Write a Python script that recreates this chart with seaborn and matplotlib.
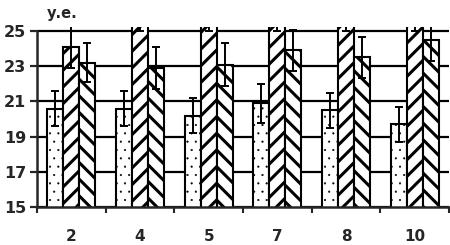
import numpy as np
import pandas as pd
import seaborn as sns
import matplotlib.pyplot as plt

groups = ["2", "4", "5", "7", "8", "10"]
series = ["dots", "right", "left"]
dots_vals = [20.6, 20.6, 20.2, 20.9, 20.5, 19.7]
dots_err = [1.0, 1.0, 1.0, 1.1, 1.0, 1.0]
right_vals = [24.1, 26.0, 26.0, 26.0, 26.0, 26.0]
right_err = [1.2, 1.0, 1.0, 1.0, 1.0, 1.0]
left_vals = [23.2, 22.9, 23.1, 23.9, 23.5, 24.5]
left_err = [1.1, 1.2, 1.2, 1.15, 1.15, 1.2]
yticks = [15, 17, 19, 21, 23, 25]

df = pd.DataFrame({
    "group": groups * 3,
    "series": [s for s in series for _ in groups],
    "value": dots_vals + right_vals + left_vals,
})
errs = [dots_err, right_err, left_err]

sns.set_style("white")
plt.rcParams["font.family"] = ["DejaVu Sans"]
plt.rcParams["font.weight"] = "bold"
plt.rcParams["hatch.color"] = "black"

fig = plt.figure(figsize=(4.5, 2.45), dpi=100)
ax = fig.add_axes([0.082, 0.155, 0.916, 0.736])

sns.barplot(data=df, x="group", y="value", hue="series", order=groups, hue_order=series,
            palette=["white"] * 3, edgecolor="black", linewidth=1.5, width=0.7,
            errorbar=None, legend=False, ax=ax, saturation=1)

hatches = ["..", "//", "\\\\"]
hlw = [0.3, 2.2, 2.2]
for cont, h, lw, e in zip(ax.containers, hatches, hlw, errs):
    xs, ys = [], []
    for p in cont.patches:
        p.set_hatch(h)
        p.set_facecolor("white")
        if hasattr(p, "set_hatch_linewidth"):
            p.set_hatch_linewidth(lw)
        xs.append(p.get_x() + p.get_width() / 2)
        ys.append(p.get_height())
    ax.errorbar(xs, ys, yerr=e, fmt="none", ecolor="black", elinewidth=1.4,
                capsize=2.6, capthick=1.4, zorder=5)

ax.set_ylim(15, 25.25)
ax.set_xlim(-0.5, 5.5)
ax.set_yticks(yticks)
ax.yaxis.grid(True, color="black", linewidth=1.6)
ax.set_axisbelow(True)
ax.set_xlabel("")
ax.set_ylabel("")

for s in ["top", "right"]:
    ax.spines[s].set_visible(False)
ax.spines["left"].set_linewidth(1.8)
ax.spines["left"].set_bounds(15, 25)
ax.spines["bottom"].set_linewidth(1.8)

ax.set_xticks(np.arange(-0.5, 6, 1), minor=True)
ax.tick_params(axis="x", which="minor", length=4.5, width=1.5, direction="out", bottom=True)
ax.tick_params(axis="x", which="major", length=0, pad=16, labelsize=11)
ax.tick_params(axis="y", length=5, width=1.6, direction="out", left=True, pad=2.5, labelsize=11.5)

ax.text(0.062, 1.03, "у.е.", transform=ax.transAxes, fontsize=10.5, fontweight="bold",
        ha="center", va="bottom")

fig.savefig("out.png", dpi=100)
